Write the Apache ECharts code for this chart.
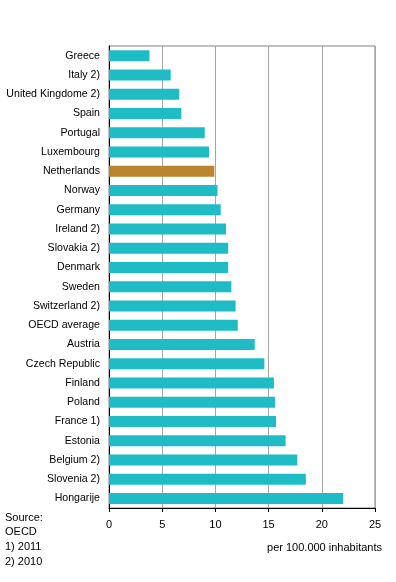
<!DOCTYPE html>
<html>
<head>
<meta charset="utf-8">
<script src="https://cdn.jsdelivr.net/npm/echarts@6/dist/echarts.min.js"></script>
<style>
  html, body { margin: 0; padding: 0; background: #fff; }
  #chart { width: 396px; height: 582px; }
</style>
</head>
<body>
<div id="chart"></div>
<script>
// landen, van boven naar beneden
var countries = ['Greece', 'Italy 2)', 'United Kingdome 2)', 'Spain', 'Portugal', 'Luxembourg',
    'Netherlands', 'Norway', 'Germany', 'Ireland 2)', 'Slovakia 2)', 'Denmark', 'Sweden',
    'Switzerland 2)', 'OECD average', 'Austria', 'Czech Republic', 'Finland', 'Poland',
    'France 1)', 'Estonia', 'Belgium 2)', 'Slovenia 2)', 'Hongarije'];
var values = [3.8, 5.8, 6.6, 6.8, 9.0, 9.4, 9.9, 10.2, 10.5, 11.0, 11.2, 11.2, 11.5,
    11.9, 12.1, 13.7, 14.6, 15.5, 15.6, 15.7, 16.6, 17.7, 18.5, 22.0];
var xTicks = [0, 5, 10, 15, 20, 25];
var highlight = 'Netherlands';
var notes = ['Source:', 'OECD', '1) 2011', '2) 2010'];

var font = 'Arial, "Liberation Sans", sans-serif';
var teal = '#1fbcc6', brown = '#b9862f';

var myChart = echarts.init(document.getElementById('chart'));
var data = values.map(function (v, i) {
    return {
        value: v,
        itemStyle: { color: countries[i] === highlight ? brown : teal }
    };
});

myChart.setOption({
    animation: false,
    grid: {
        left: 109, right: 21, top: 46, bottom: 74,
        show: true, borderColor: '#808080', borderWidth: 1
    },
    xAxis: {
        type: 'value',
        min: xTicks[0],
        max: xTicks[xTicks.length - 1],
        interval: 5,
        axisLine: { show: true, onZero: false, lineStyle: { color: '#000', width: 1 } },
        axisTick: { show: true, length: 4, lineStyle: { color: '#000' } },
        splitLine: { show: true, lineStyle: { color: '#a6a6a6', width: 1 } },
        axisLabel: { color: '#000', fontFamily: font, fontSize: 11, margin: 11 }
    },
    yAxis: {
        type: 'category',
        inverse: true,
        data: countries,
        axisLine: { show: true, lineStyle: { color: '#000', width: 1 } },
        axisTick: { show: false },
        axisLabel: { color: '#000', fontFamily: font, fontSize: 10.6, margin: 9 }
    },
    graphic: [{
        type: 'text',
        right: 14,
        top: 542,
        style: { text: 'per 100.000 inhabitants', fill: '#000', font: '11px ' + font }
    }].concat(notes.map(function (t, i) {
        return {
            type: 'text',
            left: 5,
            top: 512 + i * 14.7,
            style: { text: t, fill: '#000', font: '11px ' + font }
        };
    })),
    series: [{
        type: 'bar',
        data: data,
        barWidth: 11
    }]
});
</script>
</body>
</html>
